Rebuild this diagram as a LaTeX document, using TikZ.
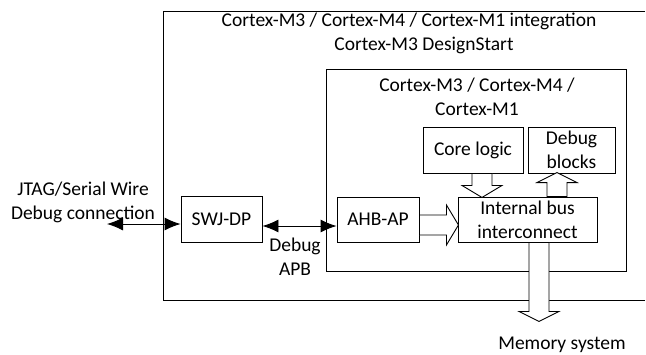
\documentclass[tikz,border=0pt]{standalone}
\usepackage{fontspec}
\setmainfont{Carlito}
\usetikzlibrary{arrows.meta,calc}
\begin{document}
\begin{tikzpicture}[x=1pt,y=-1pt,
  font=\fontsize{19.5}{24}\selectfont,
  box/.style={draw, line width=0.9pt, inner sep=0pt, align=center},
  lbl/.style={inner sep=0pt, align=center},
  barrow/.style={draw, fill=white, line width=0.9pt, line join=miter},
  dbl/.style={line width=0.9pt, {Latex[length=16pt,width=13pt]}-{Latex[length=16pt,width=13pt]}}]
\useasboundingbox (0,0) rectangle (646,354);

% outer integration box (open to the right)
\draw[line width=0.9pt] (645,11) -- (163,11) -- (163,300) -- (645,300);
\node[lbl, anchor=base] (t1) at (409,26) {Cortex-M3 / Cortex-M4 / Cortex-M1 integration};
\node[lbl, anchor=base] (t2) at (424,50) {Cortex-M3 DesignStart};

% inner processor box
\node[box, minimum width=300, minimum height=202] (inner) at (476,170) {};
\node[lbl, anchor=base] (i1) at (477,91) {Cortex-M3 / Cortex-M4 /};
\node[lbl, anchor=base] (i2) at (477,115) {Cortex-M1};

% blocks
\node[box, minimum width=81, minimum height=46] (swj) at (221.5,219) {SWJ-DP};
\node[box, minimum width=82, minimum height=45] (ahb) at (378,219.5) {AHB-AP};
\node[box, minimum width=139, minimum height=45] (ibi) at (527.5,219.5) {Internal bus\\interconnect};
\node[box, minimum width=100, minimum height=46] (core) at (473,150) {Core logic};
\node[box, minimum width=87, minimum height=46] (dbg) at (571.5,150) {Debug\\blocks};

% external labels
\node[lbl, anchor=base] (j1) at (83,195) {JTAG/Serial Wire};
\node[lbl, anchor=base] (j2) at (83,219) {Debug connection};
\node[lbl, anchor=base] (d1) at (295,251) {Debug};
\node[lbl, anchor=base] (d2) at (295,275) {APB};
\node[lbl, anchor=base] (mem) at (562,349) {Memory system};

% double-headed arrows
\coordinate (jtag) at (107,224);
\draw[dbl] (jtag) -- (swj.west |- jtag);
\draw[dbl] ($(swj.east)+(0,7)$) -- ($(ahb.west)+(0,6.5)$);

% block arrows
\draw[barrow] ($(core.south)+(-1,0)$) -- ++(0,12) -- ++(-10,0) -- ++(20,12) -- ++(20,-12) -- ++(-10,0) -- ++(0,-12) -- cycle;
\draw[barrow] ($(ibi.north)+(19.5,0)$) -- ++(0,-14) -- ++(-10,0) -- ++(20,-10) -- ++(20,10) -- ++(-10,0) -- ++(0,14) -- cycle;
\draw[barrow] ($(ahb.east)+(0,-4.5)$) -- ++(27,0) -- ++(0,-10) -- ++(12,20) -- ++(-12,20) -- ++(0,-10) -- ++(-27,0) -- cycle;
\draw[barrow] ($(ibi.south)+(1.5,0)$) -- ++(0,69) -- ++(-10,0) -- ++(20,10) -- ++(20,-10) -- ++(-10,0) -- ++(0,-69) -- cycle;
\end{tikzpicture}
\end{document}
